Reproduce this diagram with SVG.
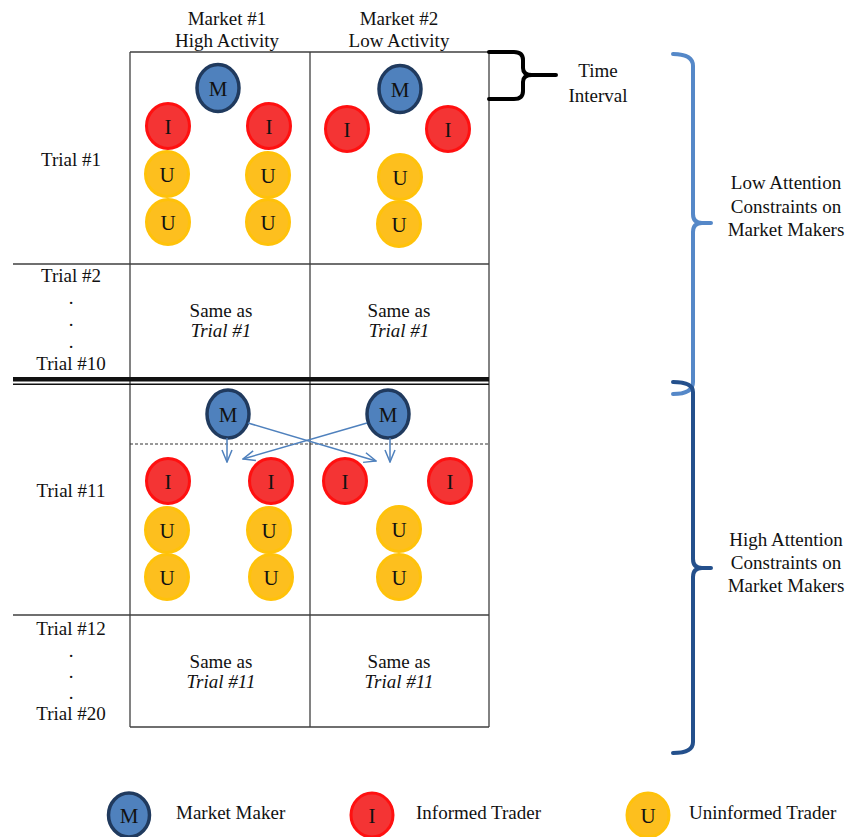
<svg xmlns="http://www.w3.org/2000/svg" width="858" height="837" viewBox="0 0 858 837">
<style>
text{font-family:"Liberation Serif","Times New Roman",serif;font-size:19px;fill:#111;text-anchor:middle}
.it{font-style:italic}
.st{text-anchor:start}
.c{font-size:21px}
.grid{stroke:#404040;stroke-width:1.3;fill:none}
.m{fill:#4f81bd;stroke:#203a5e;stroke-width:3.5}
.i{fill:#f43434;stroke:#ff1010;stroke-width:3}
.u{fill:#fdbf1e;stroke:#ffc20a;stroke-width:3}
.arr{stroke:#4f81bd;stroke-width:1.5;fill:none}
.brace{fill:none;stroke-width:4;stroke-linecap:round;stroke-linejoin:round}
</style>
<defs>
<marker id="ah" viewBox="0 0 14 12" refX="13" refY="6" markerWidth="14" markerHeight="12" markerUnits="userSpaceOnUse" orient="auto">
<path d="M1,1 L13,6 L1,11" fill="none" stroke="#4f81bd" stroke-width="1.5"/>
</marker>
</defs>
<rect width="858" height="837" fill="#fff"/>

<g id="table">
<path class="grid" d="M130,52 H489 M130,52 V727 M310,52 V727 M489,52 V727 M13,264 H489 M13,615 H489 M130,727 H489"/>
<rect x="13" y="377" width="476" height="4.5" fill="#111"/>
<line x1="13" y1="384.3" x2="489" y2="384.3" stroke="#111" stroke-width="1.5"/>
<line x1="130" y1="444" x2="489" y2="444" stroke="#333" stroke-width="1" stroke-dasharray="3,2"/>
</g>

<g id="headers">
<text x="227" y="25">Market #1</text>
<text x="227" y="47">High Activity</text>
<text x="399" y="25">Market #2</text>
<text x="399" y="47">Low Activity</text>
</g>

<g id="row-labels">
<text x="71" y="166">Trial #1</text>
<text x="71" y="282">Trial #2</text>
<text x="71" y="304">.</text>
<text x="71" y="326">.</text>
<text x="71" y="348">.</text>
<text x="71" y="370">Trial #10</text>
<text x="71" y="497">Trial #11</text>
<text x="71" y="635">Trial #12</text>
<text x="71" y="657">.</text>
<text x="71" y="678">.</text>
<text x="71" y="699">.</text>
<text x="71" y="720">Trial #20</text>
</g>

<g id="same-cells">
<text x="221" y="317">Same as</text>
<text x="221" y="337" class="it">Trial #1</text>
<text x="399" y="317">Same as</text>
<text x="399" y="337" class="it">Trial #1</text>
<text x="221" y="668">Same as</text>
<text x="221" y="688" class="it">Trial #11</text>
<text x="399" y="668">Same as</text>
<text x="399" y="688" class="it">Trial #11</text>
</g>

<g id="trial1-m1">
<ellipse class="m" cx="218" cy="88" rx="21" ry="23.5"/><text class="c" x="218" y="95.5">M</text>
<ellipse class="i" cx="168" cy="126" rx="21.5" ry="22.5"/><text class="c" x="168" y="133.5">I</text>
<ellipse class="i" cx="269" cy="126" rx="21.5" ry="22.5"/><text class="c" x="269" y="133.5">I</text>
<ellipse class="u" cx="167" cy="174" rx="21.5" ry="22.5"/><text class="c" x="167" y="181.5">U</text>
<ellipse class="u" cx="268" cy="175" rx="21.5" ry="22.5"/><text class="c" x="268" y="182.5">U</text>
<ellipse class="u" cx="168" cy="222" rx="21.5" ry="22.5"/><text class="c" x="168" y="229.5">U</text>
<ellipse class="u" cx="268" cy="222" rx="21.5" ry="22.5"/><text class="c" x="268" y="229.5">U</text>
</g>

<g id="trial1-m2">
<ellipse class="m" cx="400" cy="89" rx="21" ry="23.5"/><text class="c" x="400" y="96.5">M</text>
<ellipse class="i" cx="347" cy="129" rx="21.5" ry="22.5"/><text class="c" x="347" y="136.5">I</text>
<ellipse class="i" cx="448" cy="129" rx="21.5" ry="22.5"/><text class="c" x="448" y="136.5">I</text>
<ellipse class="u" cx="400" cy="177" rx="21.5" ry="22.5"/><text class="c" x="400" y="184.5">U</text>
<ellipse class="u" cx="399" cy="224" rx="21.5" ry="22.5"/><text class="c" x="399" y="231.5">U</text>
</g>

<g id="trial11-m1">
<ellipse class="m" cx="228" cy="414" rx="21" ry="24"/><text class="c" x="228" y="421.5">M</text>
<ellipse class="i" cx="168" cy="481" rx="21.5" ry="22.5"/><text class="c" x="168" y="488.5">I</text>
<ellipse class="i" cx="271" cy="481" rx="21.5" ry="22.5"/><text class="c" x="271" y="488.5">I</text>
<ellipse class="u" cx="167" cy="530" rx="21.5" ry="22.5"/><text class="c" x="167" y="537.5">U</text>
<ellipse class="u" cx="269" cy="530" rx="21.5" ry="22.5"/><text class="c" x="269" y="537.5">U</text>
<ellipse class="u" cx="167" cy="577" rx="21.5" ry="22.5"/><text class="c" x="167" y="584.5">U</text>
<ellipse class="u" cx="271" cy="577" rx="21.5" ry="22.5"/><text class="c" x="271" y="584.5">U</text>
</g>

<g id="trial11-m2">
<ellipse class="m" cx="388" cy="414" rx="21" ry="24"/><text class="c" x="388" y="421.5">M</text>
<ellipse class="i" cx="345" cy="481" rx="21.5" ry="22.5"/><text class="c" x="345" y="488.5">I</text>
<ellipse class="i" cx="450" cy="481" rx="21.5" ry="22.5"/><text class="c" x="450" y="488.5">I</text>
<ellipse class="u" cx="399" cy="529" rx="21.5" ry="22.5"/><text class="c" x="399" y="536.5">U</text>
<ellipse class="u" cx="399" cy="577" rx="21.5" ry="22.5"/><text class="c" x="399" y="584.5">U</text>
</g>

<g id="connectors">
<line class="arr" x1="227" y1="438" x2="227" y2="462" marker-end="url(#ah)"/>
<line class="arr" x1="390" y1="438" x2="390" y2="462" marker-end="url(#ah)"/>
<line class="arr" x1="248" y1="423" x2="376" y2="461" marker-end="url(#ah)"/>
<line class="arr" x1="367" y1="423" x2="243" y2="459" marker-end="url(#ah)"/>
</g>

<g id="time-interval">
<path class="brace" stroke="#000" d="M489,52 H514 Q523,52 523,60 V68 Q523,75 532,75 H556 M532,75 Q523,75 523,82 V91 Q523,99 514,99 H489"/>
<text x="598" y="77">Time</text>
<text x="598" y="102">Interval</text>
</g>

<g id="low-attention">
<path class="brace" stroke="#5588c8" d="M673,54 Q693,54 693,66 V214 Q693,223 702,223 H711 M702,223 Q693,223 693,232 V382 Q693,394 673,394"/>
<text x="786" y="189">Low Attention</text>
<text x="786" y="213">Constraints on</text>
<text x="786" y="236">Market Makers</text>
</g>

<g id="high-attention">
<path class="brace" stroke="#24508c" d="M673,382 Q693,382 693,392 V559 Q693,568 702,568 H711 M702,568 Q693,568 693,577 V742 Q693,753 673,753"/>
<text x="786" y="546">High Attention</text>
<text x="786" y="569">Constraints on</text>
<text x="786" y="592">Market Makers</text>
</g>

<g id="legend">
<ellipse class="m" cx="129" cy="815" rx="20.5" ry="22"/><text class="c" x="129" y="822.5">M</text>
<text class="st" x="176" y="819">Market Maker</text>
<ellipse class="i" cx="372" cy="815" rx="21" ry="22"/><text class="c" x="372" y="822.5">I</text>
<text class="st" x="416" y="819">Informed Trader</text>
<ellipse class="u" cx="648" cy="815" rx="21" ry="22"/><text class="c" x="648" y="822.5">U</text>
<text class="st" x="689" y="819">Uninformed Trader</text>
</g>
</svg>
